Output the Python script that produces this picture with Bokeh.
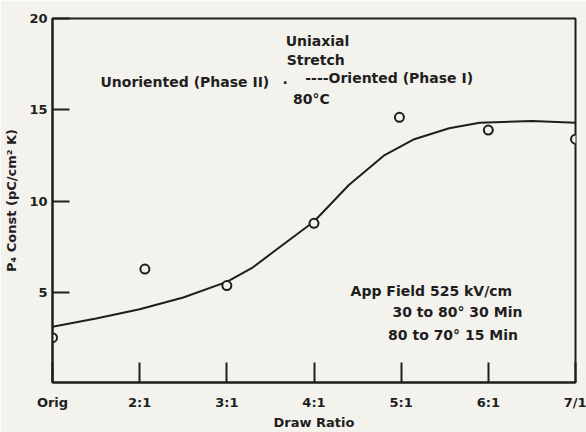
from bokeh.plotting import figure
from bokeh.models import Range1d, FixedTicker, Label
from bokeh.embed import file_html
from bokeh.resources import INLINE

# ---- data ----
ratio_ticks = [1, 2, 3, 4, 5, 6, 7]
ratio_labels = ["Orig", "2:1", "3:1", "4:1", "5:1", "6:1", "7/1"]
point_x = [1, 2.06, 3, 4, 4.98, 6, 7]
point_y = [2.55, 6.3, 5.4, 8.8, 14.6, 13.9, 13.4]
curve_x = [1.0, 1.5, 2.0, 2.5, 3.0, 3.3, 3.62, 4.0, 4.4, 4.8, 5.15, 5.55, 5.9, 6.5, 7.0]
curve_y = [3.15, 3.6, 4.1, 4.75, 5.6, 6.4, 7.55, 8.9, 10.9, 12.5, 13.4, 14.0, 14.3, 14.4, 14.3]
y_ticks = [5, 10, 15, 20]

FONT = "DejaVu Sans"
INK = "#1e1e1e"
BG = "#f4f2ec"

p = figure(width=586, height=432, output_backend="svg", toolbar_location=None,
           x_range=Range1d(1, 7), y_range=Range1d(0.1, 20),
           min_border_left=52, min_border_right=11, min_border_top=18, min_border_bottom=48,
           background_fill_color=BG, border_fill_color=BG)
p.grid.visible = False
p.outline_line_color = INK
p.outline_line_width = 2

for ax in (p.xaxis[0], p.yaxis[0]):
    ax.axis_line_color = INK
    ax.axis_line_width = 2
    ax.major_tick_line_color = INK
    ax.major_tick_line_width = 2
    ax.minor_tick_line_color = None
    ax.major_tick_out = 0
    ax.major_label_text_font = FONT
    ax.major_label_text_font_style = "bold"
    ax.major_label_text_font_size = "13px"
    ax.major_label_text_color = INK
    ax.axis_label_text_font = FONT
    ax.axis_label_text_font_style = "bold"
    ax.axis_label_text_font_size = "13px"
    ax.axis_label_text_color = INK

p.xaxis.ticker = FixedTicker(ticks=ratio_ticks)
p.xaxis.major_label_overrides = {t: l for t, l in zip(ratio_ticks, ratio_labels)}
p.xaxis.major_tick_in = 20
p.xaxis.major_label_standoff = 12
p.xaxis.axis_label = "Draw Ratio"
p.xaxis.axis_label_standoff = 2

p.yaxis.ticker = FixedTicker(ticks=y_ticks)
p.yaxis.major_tick_in = 17
p.yaxis.major_label_standoff = 5
p.yaxis.axis_label = "P\u2084 Const (pC/cm\u00b2 K)"
p.yaxis.axis_label_standoff = 7

p.line(curve_x, curve_y, line_color=INK, line_width=2)
p.scatter(point_x, point_y, marker="circle", size=9, line_color=INK, line_width=2,
          fill_color=BG)

def note(text, x, y, align="left", size="14px"):
    p.add_layout(Label(x=x, y=y, text=text, text_font=FONT, text_font_style="bold",
                       text_font_size=size, text_color=INK, text_align=align,
                       text_baseline="middle"))

note("Uniaxial", 4.04, 18.75, "center")
note("Stretch", 4.02, 17.72, "center")
note("Unoriented (Phase II)", 1.55, 16.52)
note("\u00b7", 3.64, 16.5)
note("----Oriented (Phase I)", 3.90, 16.74)
note("80\u00b0C", 3.97, 15.6, "center")
note("App Field 525 kV/cm", 4.42, 5.1)
note("30 to 80\u00b0 30 Min", 4.90, 3.96)
note("80 to 70\u00b0 15 Min", 4.85, 2.71)

open("out.html", "w").write(file_html(p, INLINE))
